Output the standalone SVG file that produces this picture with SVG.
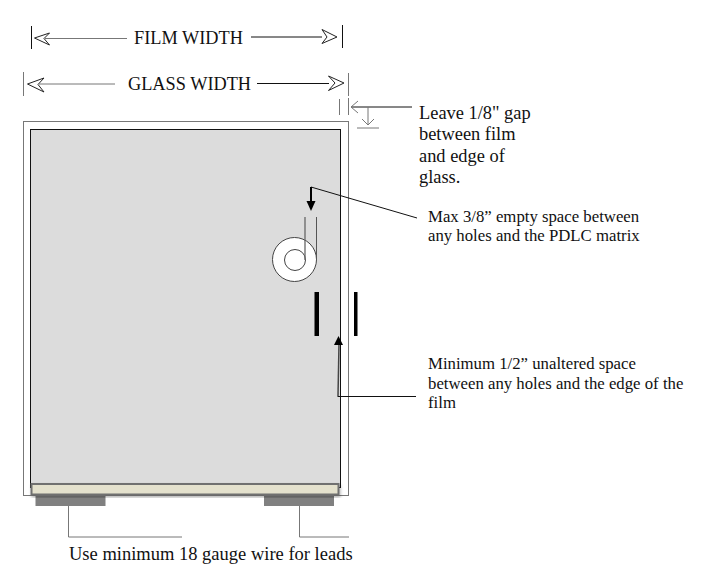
<svg xmlns="http://www.w3.org/2000/svg" width="708" height="587" viewBox="0 0 708 587">
<defs>
<filter id="sh" x="-5%" y="-20%" width="110%" height="150%"><feDropShadow dx="1" dy="2" stdDeviation="1.5" flood-color="#000" flood-opacity="0.3"/></filter>
</defs>
<style>
text{font-family:"Liberation Serif","Times New Roman",serif;fill:#111}
.big{font-size:18.3px}
.mid{font-size:18.4px}
.sm{font-size:16.75px;}
.low{font-size:18.5px}
.g{fill:none;stroke:#777;stroke-width:1}
.k{fill:none;stroke:#111;stroke-width:1}
.h{fill:#fff;stroke:#222;stroke-width:1;stroke-linejoin:round}
</style>
<rect width="708" height="587" fill="#fff"/>
<g id="glass"><rect x="23.500" y="121.500" width="325" height="374" fill="#fff" stroke="#777" stroke-width="1"/></g>
<g id="film"><rect x="30.500" y="129.500" width="310" height="358" fill="#dcdcdc" stroke="#111" stroke-width="1"/></g>
<g id="hole">
<circle cx="294.500" cy="259.500" r="22" fill="#fff" stroke="#444" stroke-width="1"/>
<circle cx="295" cy="260" r="10.500" fill="#fff" stroke="#444" stroke-width="1"/>
<path d="M305 217V260" fill="none" stroke="#666" stroke-width="1.300"/>
<path d="M316.500 217V260" fill="none" stroke="#555" stroke-width="1"/>
</g>
<g id="bars">
<rect x="314.500" y="292" width="4.500" height="44" fill="#000"/>
<rect x="354" y="292" width="3.500" height="44" fill="#000"/>
</g>
<g id="strip">
<rect x="35.500" y="495" width="70" height="11" fill="#808080"/>
<rect x="264" y="495" width="70" height="11" fill="#808080"/>
<rect x="31.500" y="484" width="307" height="10.500" fill="#e4e1cd" stroke="#6f6f6f" stroke-width="2" filter="url(#sh)"/>
</g>
<g id="connectors">
<path class="k" d="M31.500 26V49M342.500 25V48"/>
<path class="h" d="M34.500 38L49.500 33L44 38.500L49.500 45Z"/>
<path class="g" d="M45 38.500H127"/>
<path class="k" d="M251 37H322"/>
<path class="h" d="M337 37L322 29.500L327 37L322 43.500Z"/>
<path class="g" d="M23.500 72V96M348.500 73V96"/>
<path class="h" d="M27.500 84L44 78L38 84.500L44 92Z"/>
<path class="g" d="M39 84H115"/>
<path class="k" d="M257 83.500H329"/>
<path class="h" d="M344 83L328.500 76L335 83L328.500 90.500Z"/>
<path class="g" d="M339.500 99V115M348.500 98V115"/>
<path class="k" d="M351 107H412"/>
<path class="g" d="M358 101L351 107L358 113"/>
<path class="g" d="M368 107V125M362 119L368 125L374 119M357 128H379"/>
<path class="k" d="M311 187L417 218"/>
<path d="M311 187V202" fill="none" stroke="#000" stroke-width="2"/>
<path d="M306.500 201H315.500L311 211Z" fill="#000"/>
<path d="M338 396L339 344" fill="none" stroke="#444" stroke-width="1.500"/>
<path d="M334 345L338.500 336L343 345Z" fill="#000"/>
<path class="k" d="M337.500 396.500H416"/>
<path class="g" d="M68.500 506V537H182M299.500 506V537H349"/>
</g>
<g id="labels">
<text class="big" x="134" y="44">FILM WIDTH</text>
<text class="big" x="128" y="90">GLASS WIDTH</text>
<text class="mid" x="419" y="119">Leave 1/8" gap</text>
<text class="mid" x="419" y="140">between film</text>
<text class="mid" x="419" y="161.500">and edge of</text>
<text class="mid" x="419" y="182.500">glass.</text>
<text class="sm" x="428" y="221.500">Max 3/8” empty space between</text>
<text class="sm" x="428" y="241">any holes and the PDLC matrix</text>
<text class="sm" x="428" y="369">Minimum 1/2” unaltered space</text>
<text class="sm" x="428" y="388.500">between any holes and the edge of the</text>
<text class="sm" x="428" y="408">film</text>
<text class="low" x="69" y="560">Use minimum 18 gauge wire for leads</text>
</g>
</svg>
